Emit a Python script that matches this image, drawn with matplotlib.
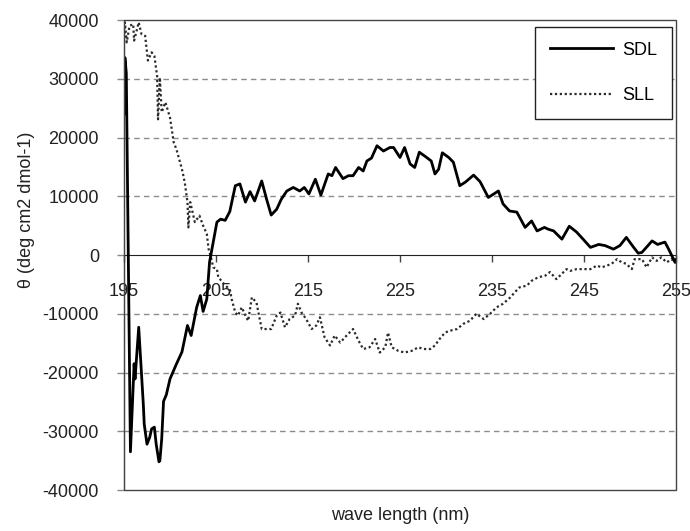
import matplotlib.pyplot as plt
from matplotlib.patches import Rectangle

plt.rcParams['font.family'] = ['Liberation Sans', 'DejaVu Sans']
plt.rcParams['axes.unicode_minus'] = False

# SDL (solid)
sdl_wl = [195.0, 195.1, 195.25, 195.7, 196.1, 196.2, 196.6, 197.1, 197.2, 197.5,
          197.8, 198.0, 198.3, 198.5, 198.8, 198.9, 199.1, 199.3, 199.6, 200.0,
          200.7, 201.3, 201.9, 202.3, 202.9, 203.3, 203.6, 204.0, 204.3, 204.7,
          205.1, 205.5, 206.0, 206.5, 207.1, 207.6, 208.2, 208.7, 209.2, 209.97,
          210.5, 211.0, 211.6, 212.1, 212.7, 213.4, 214.1, 214.6, 215.1, 215.8,
          216.4, 217.2, 217.6, 218.0, 218.8, 219.4, 219.9, 220.5, 221.0, 221.4,
          221.9, 222.5, 223.2, 223.9, 224.3, 225.0, 225.5, 226.1, 226.6, 227.1,
          227.9, 228.4, 228.8, 229.2, 229.6, 230.3, 230.8, 231.5, 232.1, 233.0,
          233.7, 234.6, 235.7, 236.2, 236.9, 237.7, 238.6, 239.3, 239.9, 240.7,
          241.1, 241.7, 242.6, 243.4, 244.2, 244.9, 245.7, 246.6, 247.3, 248.2,
          248.9, 249.6, 250.4, 250.9, 251.3, 252.4, 253.0, 253.8, 254.2, 254.9,
          255.0]
sdl_theta = [24000, 33600, 31000, -33500, -18500, -21100, -12300, -25400, -28800, -32200,
             -31000, -29600, -29300, -32200, -35200, -35000, -31300, -24900, -23800, -21100,
             -18550, -16500, -12000, -13700, -8900, -6900, -9600, -7500, -1200, 2200,
             5600, 6100, 5900, 7400, 11800, 12100, 9000, 10800, 9200, 12600,
             9500, 6800, 7800, 9500, 10900, 11500, 10900, 11500, 10400, 12900,
             10200, 13800, 13500, 14900, 13000, 13500, 13500, 14900, 14300, 16000,
             16500, 18600, 17700, 18300, 18300, 16600, 18300, 15500, 14900, 17500,
             16600, 16000, 13800, 14600, 17400, 16600, 15800, 11800, 12400, 13600,
             12500, 9800, 10900, 8700, 7500, 7300, 4700, 5800, 4100, 4700,
             4400, 4100, 2700, 4900, 3900, 2700, 1300, 1800, 1600, 1000,
             1600, 3000, 1300, 300, 450, 2400, 1800, 2200, 1000, -1250,
             -800]

# SLL (dotted)
sll_wl = [195.0, 195.1, 195.3, 195.6, 196.0, 196.1, 196.6, 196.9, 197.3, 197.6,
          198.0, 198.3, 198.6, 198.7, 198.9, 199.1, 199.5, 200.0, 200.4, 200.7,
          201.3, 201.6, 201.9, 202.0, 202.2, 202.7, 203.2, 203.6, 204.0, 204.2,
          204.5, 204.7, 205.1, 205.25, 205.6, 206.0, 206.5, 206.7, 207.1, 207.4,
          207.8, 208.2, 208.5, 208.9, 209.4, 209.97, 210.5, 211.0, 211.6, 212.0,
          212.5, 213.0, 213.6, 213.9, 214.3, 214.8, 215.4, 215.9, 216.3, 216.8,
          217.4, 217.9, 218.5, 219.2, 219.9, 220.5, 221.0, 221.7, 222.3, 222.8,
          223.4, 223.7, 224.1, 224.8, 225.5, 226.3, 227.0, 227.5, 228.3, 228.8,
          229.3, 229.9, 230.4, 231.2, 231.9, 232.6, 233.3, 234.1, 234.8, 235.5,
          236.2, 237.0, 237.5, 238.0, 238.8, 239.3, 240.0, 240.8, 241.3, 242.0,
          242.4, 243.1, 243.5, 244.2, 244.9, 245.7, 246.4, 246.9, 247.5, 248.0,
          248.6, 249.1, 249.6, 250.2, 250.5, 251.3, 251.8, 252.4, 252.9, 253.4,
          254.0, 254.5, 254.9, 255.0]
sll_theta = [36000, 39600, 36200, 39000, 39300, 36500, 39600, 37600, 37300, 33100,
             34500, 33900, 30500, 23100, 30200, 24300, 26000, 23400, 19200, 18000,
             14600, 12400, 9000, 4700, 9000, 5600, 6700, 5000, 3600, 1000,
             -700, -2100, -2400, -3800, -4400, -5200, -5800, -7500, -9800, -10300,
             -8900, -10300, -11200, -7200, -8100, -12600, -12600, -12600, -10300, -9800,
             -12300, -10900, -10300, -8300, -9800, -10900, -12600, -12000, -10600, -14000,
             -15400, -13700, -14900, -13700, -12600, -14600, -16000, -15700, -14300, -16600,
             -15700, -13200, -15700, -16300, -16600, -16300, -15700, -16000, -16000, -15400,
             -14300, -13200, -12900, -12600, -11700, -11200, -10000, -10900, -10000, -8900,
             -8300, -7200, -6300, -5500, -5200, -4400, -3800, -3500, -2900, -4100,
             -3500, -2400, -2700, -2400, -2400, -2400, -1800, -2100, -1800, -1500,
             -700, -1250, -1500, -2400, -700, -700, -2100, -400, -1000, -400,
             -1250, -700, -1250, -900]

x_ticks = [195, 205, 215, 225, 235, 245, 255]
y_ticks = [-40000, -30000, -20000, -10000, 0, 10000, 20000, 30000, 40000]

fig = plt.figure(figsize=(6.9, 5.31), dpi=100)
ax = fig.add_axes([0.1797, 0.0772, 0.8, 0.8851])

# dashed gridlines
for v in y_ticks[1:-1]:
    if v != 0:
        ax.axhline(v, color='#8c8c8c', lw=1.0, ls=(0, (4, 3)), zorder=0)

ax.plot(sdl_wl, sdl_theta, color='black', lw=2.0, label='SDL', zorder=3)
ax.plot(sll_wl, sll_theta, color='#2a2a2a', lw=1.6, ls=(0, (1, 1.2)), label='SLL', zorder=2)

ax.set_xlim(195, 255)
ax.set_ylim(-40000, 40000)

# x axis sits on zero line, frame drawn around the plot area
ax.spines['bottom'].set_position(('data', 0))
ax.spines['bottom'].set_color('#222222')
ax.spines['top'].set_visible(False)
ax.spines['right'].set_visible(False)
ax.spines['left'].set_color('#888888')
ax.add_patch(Rectangle((0, 0), 1, 1, transform=ax.transAxes, fill=False,
                       edgecolor='#444444', lw=1.0, clip_on=False, zorder=4))

ax.set_xticks(x_ticks)
ax.set_yticks(y_ticks)
ax.tick_params(axis='x', direction='out', length=5, width=1, color='#444444',
               pad=15, labelsize=13, labelcolor='#222222')
ax.tick_params(axis='y', direction='out', length=5, width=1, color='#888888',
               pad=13, labelsize=13, labelcolor='#222222')

ax.set_xlabel('wave length (nm)', fontsize=13, color='#222222')
ax.xaxis.set_label_coords(0.5, -0.036)
ax.set_ylabel('θ (deg cm2 dmol-1)', fontsize=13, color='#222222')
ax.yaxis.set_label_coords(-0.161, 0.596)

leg = ax.legend(loc='upper right', bbox_to_anchor=(0.993, 0.985), borderaxespad=0,
                fontsize=13, handlelength=3.5, handletextpad=0.55, labelspacing=1.6,
                borderpad=0.8, fancybox=False, framealpha=1)
leg.get_frame().set_edgecolor('#222222')
leg.get_frame().set_linewidth(1.0)

fig.savefig('out.png', dpi=100)
